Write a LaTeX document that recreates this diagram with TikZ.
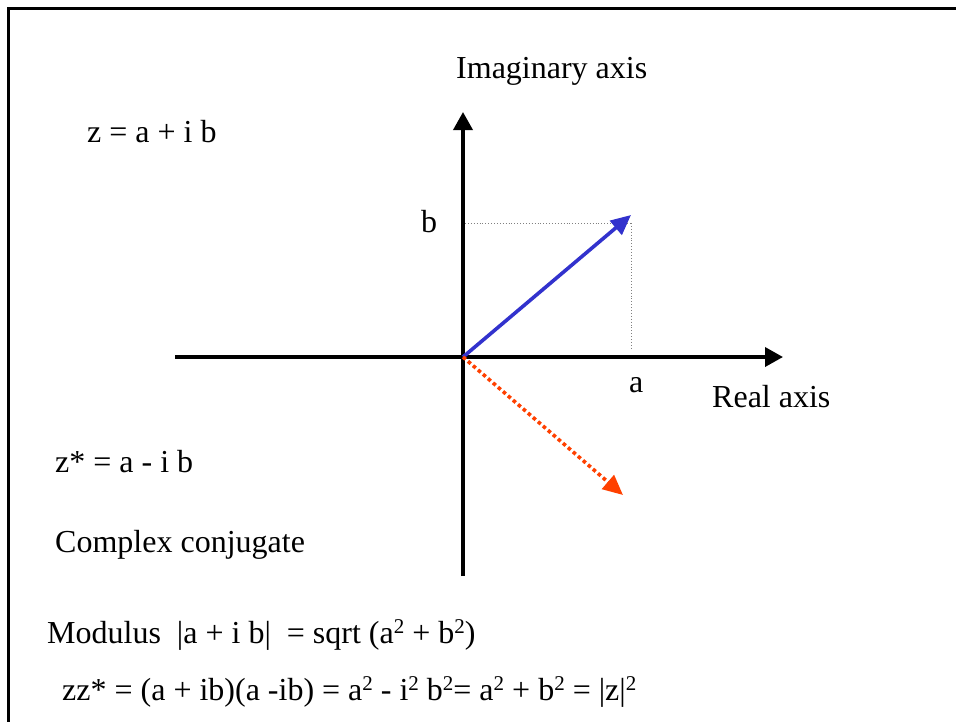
\documentclass[tikz,border=0pt]{standalone}
\usepackage{fontspec}
\setmainfont{Liberation Serif}
\usetikzlibrary{arrows.meta}
\definecolor{vecblue}{RGB}{50,50,205}
\definecolor{vecred}{RGB}{255,64,0}
\newcommand{\sq}{\raisebox{9.5pt}{\fontsize{21}{22}\selectfont 2}}
\begin{document}
\begin{tikzpicture}[x=1pt,y=-1pt,
  lbl/.style={anchor=base west,inner sep=0pt,font=\fontsize{32}{36}\selectfont},
  axis/.style={line width=3.6pt,-{Triangle[length=18pt,width=19pt]}},
  guide/.style={line width=0.9pt,gray,dotted},
  zvec/.style={line width=3.6pt,vecblue,-{Triangle[length=20pt,width=18pt]}},
  cvec/.style={line width=3.6pt,vecred,dash pattern=on 3.6pt off 3pt,-{Triangle[length=20pt,width=18pt]}}]
\useasboundingbox (0,0) rectangle (956,721);
\draw[line width=2.6pt] (8.3,722) |- (957,8.3);
\coordinate (O) at (463,357);
\coordinate (ybot) at (463,576);
\coordinate (ytop) at (463,112);
\coordinate (xleft) at (175,357);
\coordinate (xright) at (783,357);
\coordinate (Z) at (631,215);
\coordinate (Zs) at (623,495);
\coordinate (Bm) at (465,223);
\coordinate (Am) at (631,223);
\coordinate (Ab) at (631,350);
\draw[axis] (ybot) -- (ytop);
\draw[axis] (xleft) -- (xright);
\draw[guide] (Bm) -- (Am);
\draw[guide] (Am) -- (Ab);
\draw[zvec] (O) -- (Z);
\draw[cvec] (O) -- (Zs);
\node[lbl] (im) at (456,78) {Imaginary axis};
\node[lbl] (z) at (87,142) {z = a + i b};
\node[lbl] (b) at (421,232) {b};
\node[lbl] (a) at (629,392) {a};
\node[lbl] (re) at (712,407) {Real axis};
\node[lbl] (zs) at (55,472) {z* = a - i b};
\node[lbl] (cc) at (55,552) {Complex conjugate};
\node[lbl] (mod) at (47,643) {Modulus~~|a + i b|~~= sqrt (a\sq{} + b\sq)};
\node[lbl] (zz) at (62,700) {zz* = (a + ib)(a -ib) = a\sq{} - i\sq{} b\sq{}= a\sq{} + b\sq{} = |z|\sq};
\end{tikzpicture}
\end{document}
